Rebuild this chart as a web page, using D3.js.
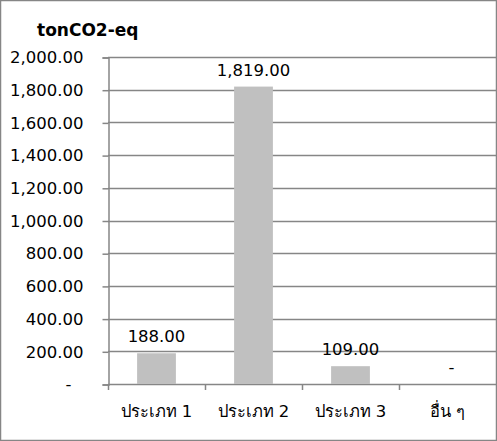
<!DOCTYPE html>
<html>
<head>
<meta charset="utf-8">
<script src="https://cdn.jsdelivr.net/npm/d3@7"></script>
<style>
  body { margin: 0; background: #fff; }
  text { font-family: Tahoma, "DejaVu Sans", sans-serif; }
</style>
</head>
<body>
<div id="chart"></div>
<script>
var categories = ["ประเภท 1", "ประเภท 2", "ประเภท 3", "อื่น ๆ"];
var values = [188, 1819, 109, 0];
var yTicks = [0, 200, 400, 600, 800, 1000, 1200, 1400, 1600, 1800, 2000];
var unitLabel = "tonCO2-eq";

var w = 497;
var h = 441;

var svg = d3.select("#chart")
            .append("svg")
            .attr("width", w)
            .attr("height", h);

// outer frame
svg.append("rect")
   .attr("x", 0.5).attr("y", 0.5)
   .attr("width", w - 1).attr("height", h - 1)
   .attr("fill", "#fff")
   .attr("stroke", "#868686")
   .attr("stroke-width", 1.5);

var x = d3.scaleBand()
          .domain(categories)
          .range([108, 496])
          .padding(0);

var y = d3.scaleLinear()
          .domain([0, 2000])
          .range([384, 57]);

var fmt = d3.format(",.2f");
function label(v) { return v === 0 ? "-" : fmt(v); }

// gridlines
svg.append("g")
   .selectAll("line")
   .data(yTicks)
   .enter()
   .append("line")
   .attr("x1", 108).attr("x2", 496)
   .attr("y1", function(d) { return Math.round(y(d)) + 0.5; })
   .attr("y2", function(d) { return Math.round(y(d)) + 0.5; })
   .attr("stroke", "#868686")
   .attr("stroke-width", 1.5);

// y axis
var yAxis = svg.append("g")
   .attr("transform", "translate(108.5,0.5)")
   .call(d3.axisLeft(y).tickValues(yTicks).tickSize(6).tickPadding(19).tickFormat(label));
yAxis.select(".domain").attr("stroke", "#868686").attr("stroke-width", 1.5);
yAxis.selectAll(".tick line").attr("stroke", "#868686").attr("stroke-width", 1.5);
yAxis.selectAll(".tick text")
     .attr("font-size", "16.5px")
     .attr("fill", "#000")
     .attr("font-family", "Tahoma, 'DejaVu Sans', sans-serif")
     .attr("dx", function(d) { return d === 0 ? -12 : 0; });

// x axis
var xAxis = svg.append("g")
   .attr("transform", "translate(0," + (y(0) + 0.5) + ")")
   .call(d3.axisBottom(x).tickSize(0).tickPadding(21));
xAxis.select(".domain").remove();
xAxis.selectAll(".tick text")
     .attr("font-size", "16.5px")
     .attr("fill", "#000")
     .attr("font-family", "Tahoma, 'DejaVu Sans', sans-serif");

// category separators
var seps = x.domain().map(function(c) { return x(c); });
svg.append("g")
   .selectAll("line")
   .data(seps)
   .enter()
   .append("line")
   .attr("x1", function(d) { return Math.round(d) + 0.5; })
   .attr("x2", function(d) { return Math.round(d) + 0.5; })
   .attr("y1", y(0))
   .attr("y2", y(0) + 6)
   .attr("stroke", "#868686")
   .attr("stroke-width", 1.5);

// bars
var bw = x.bandwidth() * 0.4;
svg.selectAll("rect.bar")
   .data(values)
   .enter()
   .append("rect")
   .attr("class", "bar")
   .attr("x", function(d, i) { return x(categories[i]) + (x.bandwidth() - bw) / 2; })
   .attr("y", function(d) { return y(d); })
   .attr("width", bw)
   .attr("height", function(d) { return y(0) - y(d); })
   .attr("fill", "#c0c0c0");

// value labels
svg.selectAll("text.val")
   .data(values)
   .enter()
   .append("text")
   .attr("class", "val")
   .text(function(d) { return label(d); })
   .attr("x", function(d, i) { return x(categories[i]) + x.bandwidth() / 2 + (d === 0 ? 4 : 0); })
   .attr("y", function(d) { return y(d) - 11; })
   .attr("text-anchor", "middle")
   .attr("font-size", "16.5px")
   .attr("fill", "#000");

// unit title
svg.append("text")
   .text(unitLabel)
   .attr("x", 37)
   .attr("y", 36)
   .attr("font-size", "17px")
   .attr("font-weight", "bold")
   .attr("fill", "#000");
</script>
</body>
</html>
